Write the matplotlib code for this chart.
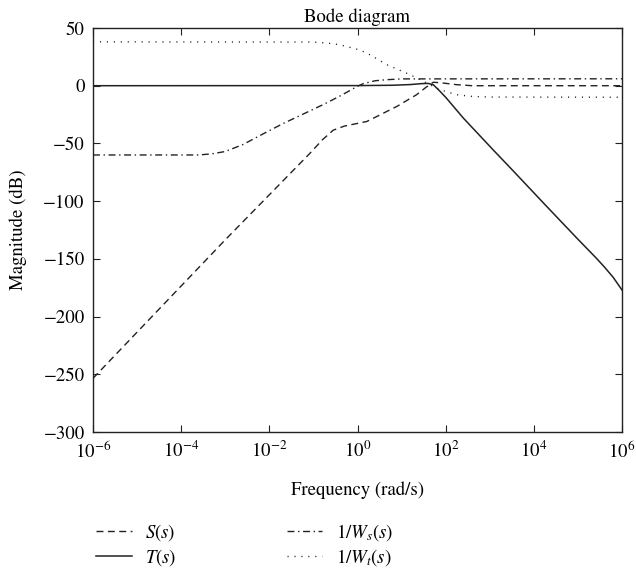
import numpy as np
import matplotlib
matplotlib.use("Agg")
import matplotlib.pyplot as plt

# values (log10 of rad/s, dB)
s_logw = [-6, -3, -1.08, -0.8, -0.55, -0.3, 0.21, 0.89, 1.34, 1.55, 1.72, 1.9, 2.25, 2.6, 6]
s_db = [-253.5, -133.5, -58.6, -47, -38.5, -35, -31, -18, -7.8, -1.5, 3.0, 2.5, 0.9, 0, 0]

t_logw = [-6, 0, 0.8, 1.2, 1.45, 1.6, 1.72, 1.85, 2.0, 2.2, 2.4, 3.08, 3.5, 4.29, 5.0, 5.42, 5.6, 5.8, 6]
t_db = [0, 0.1, 0.4, 1.0, 1.8, 2.0, 0.8, -4, -10, -19, -28, -55.7, -72.5, -104.5, -133, -149.5, -157, -166, -177]

ws_logw = [-6, -3.6, -3.3, -3.0, -2.6, -2.23, -1.7, -1.19, -0.76, -0.4, 0, 0.13, 0.4, 0.66, 1.0, 6]
ws_db = [-60, -60, -59, -57, -51, -43.5, -33, -23.8, -16, -9, -0.5, 1.8, 4.3, 5.2, 5.9, 6]

wt_logw = [-6, -1.0, -0.7, -0.4, 0, 0.21, 0.66, 1.19, 1.57, 1.87, 2.25, 2.6, 3.0, 6]
wt_db = [38, 37.8, 37, 35.5, 31.5, 28.4, 18.3, 9.6, 2.3, -3.5, -7.8, -9.3, -9.8, -10]

xticks = [-6, -4, -2, 0, 2, 4, 6]
yticks = [-300, -250, -200, -150, -100, -50, 0, 50]

plt.rcParams['font.family'] = ['STIXGeneral', 'DejaVu Serif']
plt.rcParams['mathtext.fontset'] = 'stix'
fs = 13.5
ink = '#222222'

fig = plt.figure(figsize=(6.36, 5.74), dpi=100)
ax = fig.add_axes([93 / 636, 1 - 432 / 574, 529 / 636, 404 / 574])

w = lambda l: 10.0 ** np.array(l)
ax.semilogx(w(s_logw), s_db, color=ink, lw=1.0, linestyle=(0, (5, 3.2)), label=r'$S(s)$')
ax.semilogx(w(t_logw), t_db, color=ink, lw=1.1, linestyle='-', label=r'$T(s)$')
ax.semilogx(w(ws_logw), ws_db, color=ink, lw=1.0, linestyle=(0, (5, 2.6, 1, 2.6)), label=r'$1/W_s(s)$')
ax.semilogx(w(wt_logw), wt_db, color=ink, lw=1.0, linestyle=(0, (0.8, 4.2)), label=r'$1/W_t(s)$')

ax.set_xlim(1e-6, 1e6)
ax.set_ylim(-300, 50)
ax.set_xticks(w(xticks))
ax.set_xticklabels([r'$10^{%d}$' % k for k in xticks])
ax.xaxis.set_minor_locator(matplotlib.ticker.NullLocator())
ax.set_yticks(yticks)
ax.set_yticklabels([('\u2212%d' % -v) if v < 0 else '%d' % v for v in yticks])
ax.tick_params(direction='in', top=True, right=True, length=5, width=0.8,
               color=ink, labelsize=fs, pad=6)
for sp in ax.spines.values():
    sp.set_color(ink)
    sp.set_linewidth(1.0)

ax.set_title('Bode diagram', fontsize=fs, pad=4)
ax.set_xlabel('Frequency (rad/s)', fontsize=fs, labelpad=14)
ax.set_ylabel('Magnitude (dB)', fontsize=fs, labelpad=12)

fig.legend(loc='upper left', bbox_to_anchor=(96 / 636, 1 - 522 / 574), ncol=2,
           frameon=False, fontsize=fs, handlelength=1.9, handletextpad=0.7,
           columnspacing=5.9, labelspacing=0.2, borderpad=0, borderaxespad=0)

fig.savefig('out.png', dpi=100)
